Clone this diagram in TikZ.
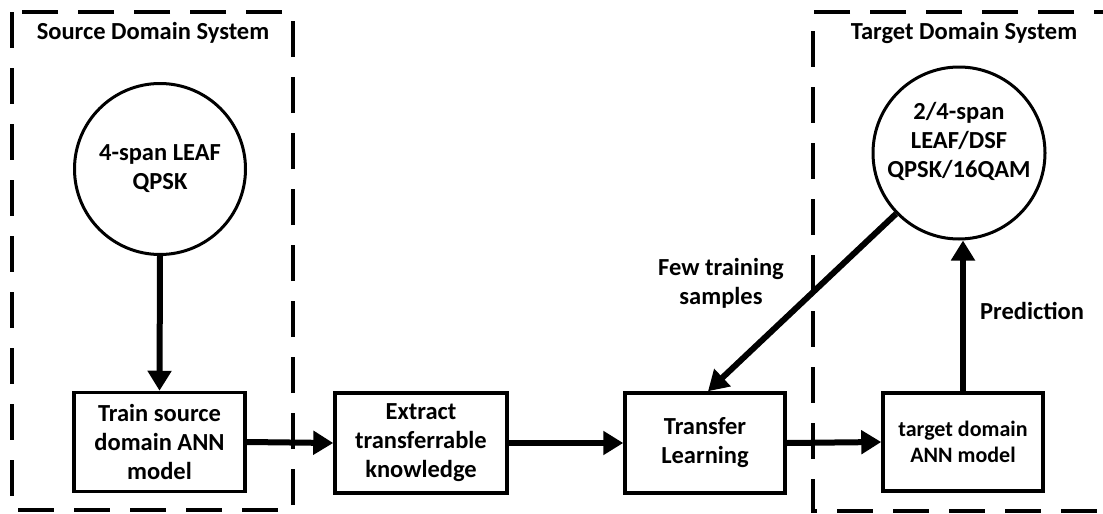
\documentclass[tikz,border=0pt]{standalone}
\usepackage{fontspec}
\setmainfont{Carlito}
\usetikzlibrary{arrows.meta}
\begin{document}
\begin{tikzpicture}[x=1pt,y=-1pt,
  txt/.style={font=\fontsize{24.5}{29}\selectfont\bfseries, align=center, inner sep=0pt},
  smalltxt/.style={font=\fontsize{22}{26}\selectfont\bfseries, align=center, inner sep=0pt},
  domainbox/.style={line width=4pt, dash pattern=on 36pt off 20pt},
  stepbox/.style={draw, line width=3.5pt, inner sep=0pt},
  param/.style={draw, circle, line width=3pt, inner sep=0pt},
  flow/.style={line width=6pt, -{Triangle[length=20pt,width=23pt]}, shorten >=0pt}
]
\useasboundingbox (0,0) rectangle (1103,514);

% system frames
\draw[domainbox] (12,12) rectangle (293,510);
\begin{scope}
  \clip (790,0) rectangle (1103,514);
  \draw[domainbox] (1130,12) -- (813,12) -- (813,511) -- (1130,511);
\end{scope}
\node[txt] (srctitle) at (153,33) {Source Domain System};
\node[txt] (tgttitle) at (964,33) {Target Domain System};

% parameter circles
\node[param, minimum size=171pt, txt] (src) at (160,169) {4-span LEAF\\QPSK};
\node[param, minimum size=172pt] (tgt) at (959,153) {};
\node[txt] (tgttext) at (959,141) {2/4-span\\LEAF/DSF\\QPSK/16QAM};

% processing steps
\node[stepbox, minimum width=171pt, minimum height=99pt, txt] (train) at (159.5,442) {Train source\\domain ANN\\model};
\node[stepbox, minimum width=172pt, minimum height=100pt, txt] (extract) at (421,443) {Extract\\transferrable\\knowledge};
\node[stepbox, minimum width=160pt, minimum height=100pt, txt] (transfer) at (705,443) {Transfer\\Learning};
\node[stepbox, minimum width=160pt, minimum height=98pt, smalltxt] (model) at (963,442) {target domain\\ANN model};

% connectors
\draw[flow] (src.south) -- (train.north);
\draw[flow] (train.east) -- (extract.west);
\draw[flow] (extract.east) -- (transfer.west);
\draw[flow] (transfer.east) -- (model.west);
\draw[flow] (tgt.224) -- ([xshift=3pt]transfer.north);
\draw[flow] (model.north) -- (model.north |- tgt.south);

% connector labels
\node[txt] (fewlbl) at (721,283) {Few training\\samples};
\node[txt] (predlbl) at (1032,311) {Prediction};
\end{tikzpicture}
\end{document}
